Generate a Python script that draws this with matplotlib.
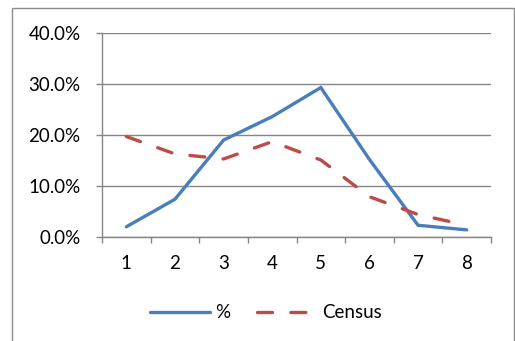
import matplotlib
matplotlib.use("Agg")
import matplotlib.pyplot as plt
from matplotlib.patches import Rectangle
from matplotlib.lines import Line2D
from matplotlib.ticker import FixedLocator, FuncFormatter, NullFormatter

plt.rcParams['font.family'] = ['Lato', 'DejaVu Sans']

categories = [1, 2, 3, 4, 5, 6, 7, 8]
pct = [0.020, 0.074, 0.190, 0.236, 0.293, 0.152, 0.023, 0.014]
census = [0.197, 0.163, 0.153, 0.187, 0.151, 0.079, 0.044, 0.023]
y_ticks = [0.0, 0.1, 0.2, 0.3, 0.4]

blue = '#4A7EBB'
red = '#BE4B48'
grid_gray = '#868686'
fs = 13.5

W, H = 515, 341
fig = plt.figure(figsize=(W / 100, H / 100), dpi=100)
fig.patch.set_facecolor('white')

# chart frame
frame = Rectangle((12 / W, -0.05), (514 - 12) / W, (H - 8) / H + 0.05,
                  transform=fig.transFigure, fill=False,
                  edgecolor='#8c8c8c', linewidth=1.0)
fig.add_artist(frame)

ax = fig.add_axes([102 / W, (H - 237) / H, (491 - 102) / W, (237 - 33) / H])

xs = list(range(len(categories)))
ax.plot(xs, pct, color=blue, linewidth=2.4, solid_capstyle='round',
        solid_joinstyle='miter', zorder=3)
ax.plot(xs, census, color=red, linewidth=2.4, dashes=(4.5, 5.5),
        dash_capstyle='round', zorder=3)

ax.set_xlim(-0.5, len(categories) - 0.5)
ax.set_ylim(0, 0.4)

ax.yaxis.set_major_locator(FixedLocator(y_ticks))
ax.yaxis.set_major_formatter(FuncFormatter(lambda v, p: f"{v * 100:.1f}%"))
ax.grid(axis='y', color=grid_gray, linewidth=1.0)
ax.set_axisbelow(True)

# category boundaries carry the tick marks, labels sit between them
ax.xaxis.set_major_locator(FixedLocator([i - 0.5 for i in range(len(categories) + 1)]))
ax.xaxis.set_major_formatter(NullFormatter())
ax.xaxis.set_minor_locator(FixedLocator(xs))
ax.xaxis.set_minor_formatter(FuncFormatter(lambda v, p: str(categories[int(round(v))])))
ax.tick_params(axis='x', which='major', direction='out', length=4.5,
               width=1.0, color=grid_gray)
ax.tick_params(axis='x', which='minor', length=0, pad=13, labelsize=fs)
ax.tick_params(axis='y', direction='out', length=4.5, width=1.0,
               color=grid_gray, labelsize=fs, pad=11)

for side in ('top', 'right'):
    ax.spines[side].set_visible(False)
for side in ('left', 'bottom'):
    ax.spines[side].set_color(grid_gray)
    ax.spines[side].set_linewidth(1.0)

handles = [Line2D([], [], color=blue, linewidth=2.4, solid_capstyle='round'),
           Line2D([], [], color=red, linewidth=2.4, dashes=(4.5, 5.5),
                  dash_capstyle='round')]
fig.legend(handles, ['%', 'Census'], loc='center',
           bbox_to_anchor=(266 / W, (H - 313) / H), ncol=2, frameon=False,
           fontsize=fs, handlelength=3.2, columnspacing=1.4, handletextpad=0.3)

fig.savefig('out.png', dpi=100, facecolor='white')
